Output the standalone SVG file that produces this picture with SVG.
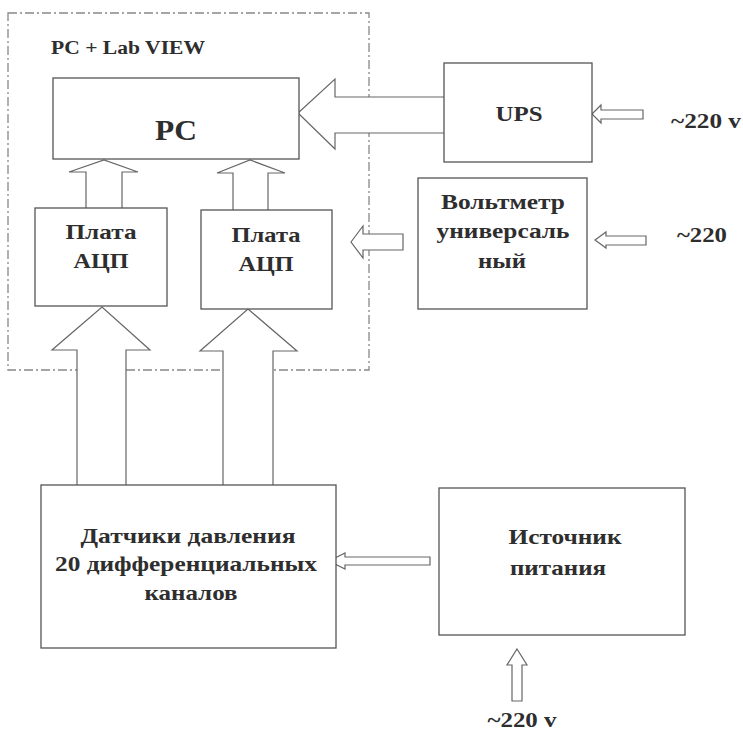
<svg xmlns="http://www.w3.org/2000/svg" width="743" height="732" viewBox="0 0 743 732">
<style>
.box{fill:#fff;stroke:#555;stroke-width:1.3}
.arr{fill:#fff;stroke:#666;stroke-width:1.2;stroke-linejoin:miter}
.t{font-family:"Liberation Serif","DejaVu Serif",serif;font-weight:bold;fill:#2e2e2e;text-anchor:middle}
.b{fill:none;stroke:#888;stroke-width:1.3;stroke-dasharray:9 3 2 3}
</style>
<rect width="743" height="732" fill="#fff"/>
<g id="boundary">
<rect class="b" x="8" y="13" width="361" height="357"/>
<text class="t" x="51" y="54" font-size="18" style="text-anchor:start" textLength="154" lengthAdjust="spacingAndGlyphs">PC + Lab VIEW</text>
</g>
<g id="connectors">
<path class="arr" d="M77,485 V350 H52 L102,307 L150,350 H126 V485"/>
<path class="arr" d="M223,485 V351 H200 L248,309 L297,351 H273 V485"/>
<path class="arr" d="M86,208 V172 H69 L104,160 L138,172 H122 V208"/>
<path class="arr" d="M233,210 V173 H217 L250,160 L285,173 H268 V210"/>
<path class="arr" d="M444,97 H335 V79 L298,113 L335,149 V133 H444"/>
<polygon class="arr" points="592,114 601,105 601,110 643,110 643,119 601,119 601,123"/>
<polygon class="arr" points="351,242 363,226 363,234 403,234 403,250 363,250 363,258"/>
<polygon class="arr" points="595,240 606,232 606,236 646,236 646,245 606,245 606,248"/>
<polygon class="arr" points="329,561 345,553 345,557 430,557 430,565 345,565 345,569"/>
<polygon class="arr" points="517,649 527,665 522,665 522,701 512,701 512,665 507,665"/>
</g>
<g id="pc">
<rect class="box" x="53" y="78" width="246" height="81"/>
<text class="t" x="176" y="140" font-size="30" textLength="42" lengthAdjust="spacingAndGlyphs">PC</text>
</g>
<g id="adc1">
<rect class="box" x="35" y="208" width="132" height="98"/>
<text class="t" x="101" y="239" font-size="22" textLength="71" lengthAdjust="spacingAndGlyphs">Плата</text>
<text class="t" x="101" y="268" font-size="22" textLength="55" lengthAdjust="spacingAndGlyphs">АЦП</text>
</g>
<g id="adc2">
<rect class="box" x="201" y="210" width="131" height="99"/>
<text class="t" x="266" y="242" font-size="22" textLength="69" lengthAdjust="spacingAndGlyphs">Плата</text>
<text class="t" x="266" y="271" font-size="22" textLength="55" lengthAdjust="spacingAndGlyphs">АЦП</text>
</g>
<g id="ups">
<rect class="box" x="444" y="63" width="148" height="99"/>
<text class="t" x="519" y="121" font-size="22" textLength="47" lengthAdjust="spacingAndGlyphs">UPS</text>
</g>
<g id="ups-in">
<text class="t" x="706" y="128" font-size="20" textLength="70" lengthAdjust="spacingAndGlyphs">~220 v</text>
</g>
<g id="voltmeter">
<rect class="box" x="418" y="178" width="169" height="131"/>
<text class="t" x="503" y="209" font-size="20" textLength="124" lengthAdjust="spacingAndGlyphs">Вольтметр</text>
<text class="t" x="503" y="238" font-size="20" textLength="133" lengthAdjust="spacingAndGlyphs">универсаль</text>
<text class="t" x="502" y="268" font-size="20" textLength="48" lengthAdjust="spacingAndGlyphs">ный</text>
</g>
<g id="voltmeter-in">
<text class="t" x="702" y="242" font-size="20" textLength="50" lengthAdjust="spacingAndGlyphs">~220</text>
</g>
<g id="sensors">
<rect class="box" x="41" y="485" width="295" height="163"/>
<text class="t" x="188" y="543" font-size="21" textLength="215" lengthAdjust="spacingAndGlyphs">Датчики давления</text>
<text class="t" x="186" y="571" font-size="21" textLength="262" lengthAdjust="spacingAndGlyphs">20 дифференциальных</text>
<text class="t" x="191" y="600" font-size="21" textLength="93" lengthAdjust="spacingAndGlyphs">каналов</text>
</g>
<g id="power">
<rect class="box" x="439" y="488" width="246" height="147"/>
<text class="t" x="565" y="544" font-size="21" textLength="113" lengthAdjust="spacingAndGlyphs">Источник</text>
<text class="t" x="558" y="575" font-size="21" textLength="96" lengthAdjust="spacingAndGlyphs">питания</text>
</g>
<g id="power-in">
<text class="t" x="522" y="727" font-size="20" textLength="69" lengthAdjust="spacingAndGlyphs">~220 v</text>
</g>
</svg>
